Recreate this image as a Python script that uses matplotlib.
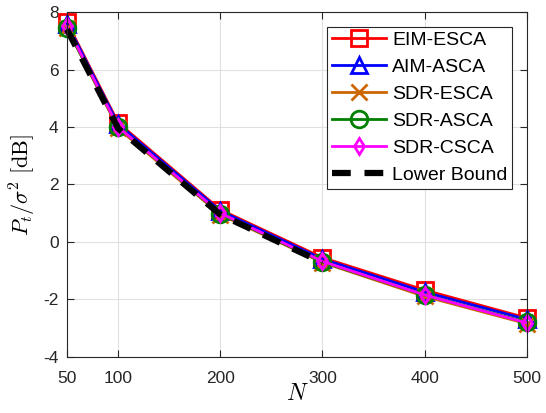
import numpy as np
import matplotlib
matplotlib.use('Agg')
import matplotlib.pyplot as plt

plt.rcParams['font.family'] = ['Liberation Sans', 'DejaVu Sans']
plt.rcParams['mathtext.fontset'] = 'cm'
plt.rcParams['axes.unicode_minus'] = False

N = [50, 100, 200, 300, 400, 500]
eim_esca = [7.65, 4.15, 1.12, -0.55, -1.68, -2.65]
aim_asca = [7.60, 4.10, 1.08, -0.60, -1.75, -2.70]
sdr_esca = [7.45, 3.95, 0.95, -0.72, -1.90, -2.85]
sdr_asca = [7.45, 4.00, 0.98, -0.70, -1.85, -2.80]
sdr_csca = [7.50, 4.00, 1.00, -0.68, -1.85, -2.82]
N_lb = [50, 100, 200, 300]
lower_bound = [7.40, 3.95, 0.95, -0.72]

fig = plt.figure(figsize=(5.46, 4.13), dpi=100)
ax = fig.add_axes([0.1227, 0.1362, 0.8423, 0.8345])

lw = 2.0
kw = dict(lw=lw, mew=2.0, clip_on=False)
ax.plot(N, eim_esca, '-s', color='red', ms=12, mfc='none', label='EIM-ESCA', **kw)
ax.plot(N, aim_asca, '-^', color='blue', ms=11, mfc='none', label='AIM-ASCA', **kw)
ax.plot(N, sdr_esca, '-x', color='#CC6600', ms=11, label='SDR-ESCA', **kw)
ax.plot(N, sdr_asca, '-o', color='green', ms=12, mfc='none', label='SDR-ASCA', **kw)
ax.plot(N, sdr_csca, '-d', color='magenta', ms=8, mfc='none', label='SDR-CSCA', **kw)
ax.plot(N_lb, lower_bound, '--', color='black', lw=4.5, dashes=(3, 2.2), label='Lower Bound',
        clip_on=False)

ax.set_xlim(50, 500)
ax.set_ylim(-4, 8)
ax.set_xticks(N)
ax.set_yticks(np.arange(-4, 9, 2))
ax.grid(True, color='#e0e0e0', lw=0.8)
ax.set_axisbelow(True)
ax.tick_params(direction='in', top=True, right=True, labelsize=12.5, colors='#262626', length=5)
ax.tick_params(axis='x', pad=10)
ax.tick_params(axis='y', pad=6)
for s in ax.spines.values():
    s.set_color('#262626')

ax.set_xlabel('$N$', fontsize=17, labelpad=-2)
ax.set_ylabel(r'$P_t/\sigma^2\ [\mathrm{dB}]$', fontsize=16, labelpad=4)

leg = ax.legend(loc='upper right', fontsize=14, handlelength=2.8, borderpad=0.25,
                labelspacing=0.48, handletextpad=0.3, fancybox=False, framealpha=1,
                edgecolor='#262626', borderaxespad=0.75)
leg.get_frame().set_linewidth(0.8)

fig.savefig('out.png', dpi=100)
